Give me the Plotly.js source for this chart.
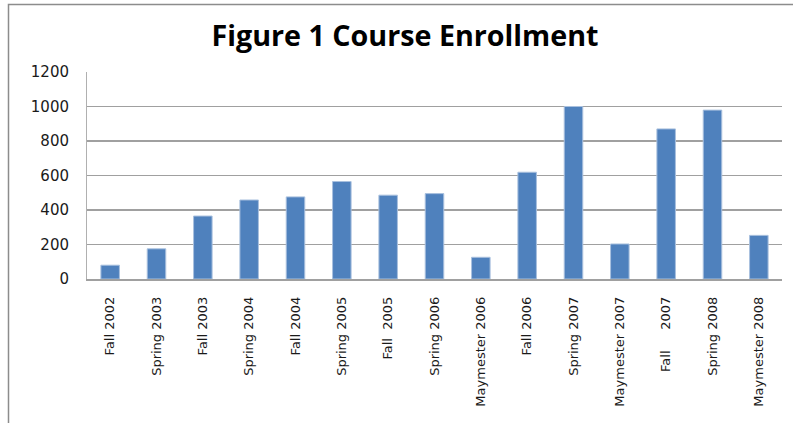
<!DOCTYPE html>
<html>
<head>
<meta charset="utf-8">
<script src="https://cdn.plot.ly/plotly-3.0.1.min.js"></script>
<style>html,body{margin:0;padding:0;background:#fff;}#chart{width:793px;height:423px;}</style>
</head>
<body>
<div id="chart"></div>
<script>
const categories = ["Fall 2002","Spring 2003","Fall 2003","Spring 2004","Fall 2004","Spring 2005","Fall  2005","Spring 2006","Maymester 2006","Fall 2006","Spring 2007","Maymester 2007","Fall     2007","Spring 2008","Maymester 2008"];
const enrollment = [80, 175, 365, 458, 476, 565, 486, 495, 126, 619, 1000, 203, 870, 979, 253];
const yTicks = [0, 200, 400, 600, 800, 1000, 1200];
const chartTitle = "Figure 1 Course Enrollment";

const trace = {
  type: 'bar',
  x: categories.map((c, i) => i),
  y: enrollment,
  marker: { color: '#4F81BD', line: { color: '#a9c0de', width: 1 } },
  hoverinfo: 'skip'
};

const layout = {
  width: 793, height: 423,
  margin: { l: 87, r: 11, t: 72, b: 144 },
  paper_bgcolor: '#ffffff', plot_bgcolor: '#ffffff',
  showlegend: false,
  bargap: 0.6,
  title: {
    text: chartTitle,
    font: { family: 'Open Sans', size: 28.7, color: '#000000', weight: 'bold' },
    x: 405 / 793, xanchor: 'center', xref: 'container',
    y: 1 - 36 / 423, yanchor: 'middle', yref: 'container'
  },
  xaxis: {
    tickmode: 'array',
    tickvals: categories.map((c, i) => i),
    ticktext: categories,
    range: [-0.5, categories.length - 0.5],
    tickangle: -90,
    ticks: '',
    showgrid: false,
    showline: true, linecolor: '#a0a0a0', linewidth: 1.5,
    tickfont: { family: 'DejaVu Sans', size: 13, color: '#1a1a1a' },
    ticklabelstandoff: 11,
    zeroline: false
  },
  yaxis: {
    range: [0, 1200],
    tickmode: 'array',
    tickvals: yTicks,
    ticktext: yTicks.map(String),
    ticks: '',
    showgrid: true, gridcolor: '#a0a0a0', gridwidth: 1.5,
    showline: true, linecolor: '#b0b0b0', linewidth: 1,
    zeroline: false,
    tickfont: { family: 'DejaVu Sans', size: 15, color: '#1a1a1a' },
    ticklabelstandoff: 14
  },
  shapes: [{
    type: 'rect', xref: 'paper', yref: 'paper',
    x0: (8.5 - 87) / 695, x1: 1.2,
    y0: -1, y1: (279 - 4.5) / 207,
    line: { color: '#8c8c8c', width: 1.5 },
    fillcolor: 'rgba(0,0,0,0)', layer: 'below'
  }]
};

Plotly.newPlot('chart', [trace], layout, { displayModeBar: false, staticPlot: true });
</script>
</body>
</html>
